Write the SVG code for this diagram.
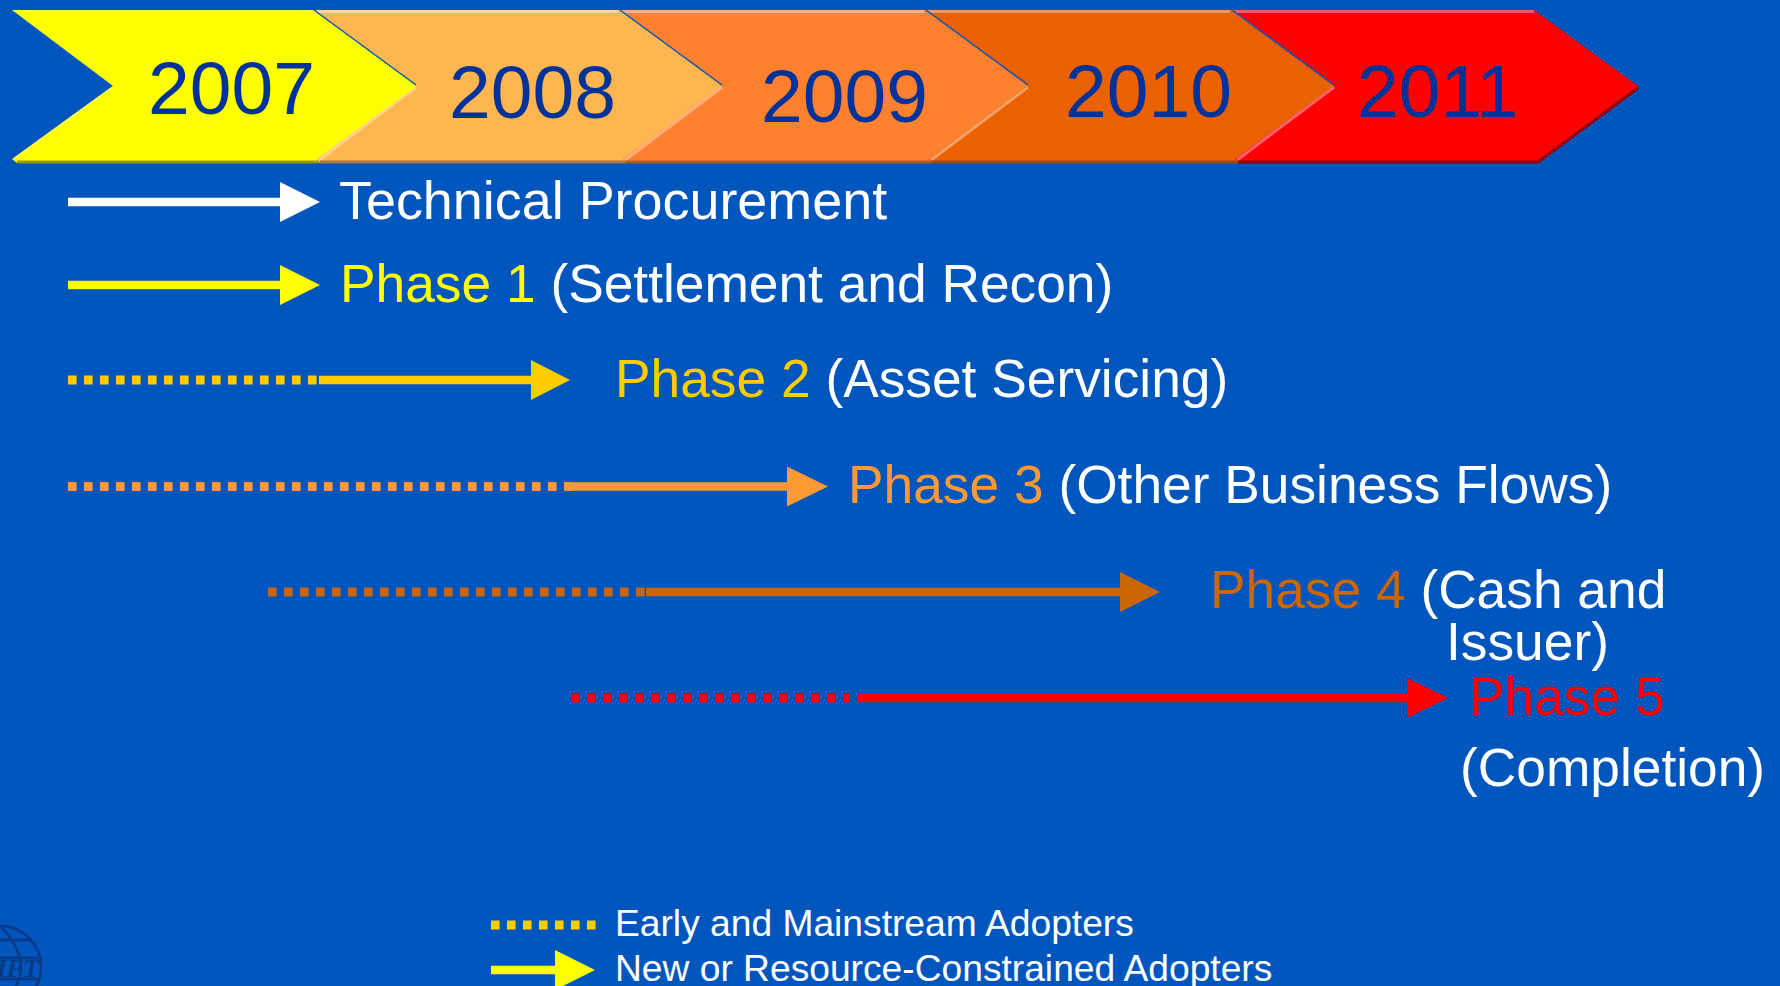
<svg xmlns="http://www.w3.org/2000/svg" width="1780" height="986" viewBox="0 0 1780 986">
<style>
text{font-family:"Liberation Sans",Arial,sans-serif}
.yr{font-size:75px;fill:#003399}
.t{font-size:53.3px;fill:#fff}
.l{font-size:37.2px;fill:#fff}
.hi{stroke-width:3;fill:none}
.ln{stroke-width:8.5;fill:none}
.dot{stroke-width:9;stroke-dasharray:8.6 7.4;fill:none}
.edge{stroke:#0156BE;stroke-width:1.5;fill:none}
</style>
<rect width="1780" height="986" fill="#0156BE"/>
<g id="y2011"><path d="M1232 10H1534L1638 86L1538 163H1238L1232 159L1334 87Z" fill="#f00"/><path d="M1234 11.500H1534" stroke="#ff5a64" stroke-width="3"/><path d="M1334 87L1237 160" class="hi" stroke="#ff6070"/><path d="M1238 162H1538L1638 88" class="hi" stroke="#990000"/><text class="yr" x="1357" y="117">2011</text></g>
<g id="y2010"><path d="M926 10H1232L1334 86L1235 159L1237 163H932L926 159L1028 87Z" fill="#EB6100"/><path d="M928 11.500H1230" stroke="#f29a5a" stroke-width="3"/><path d="M1028 87L931 160" class="hi" stroke="#f4a06a"/><path d="M932 162H1238" class="hi" stroke="#a04a10"/><path d="M1232 10L1334 85" class="edge"/><text class="yr" x="1065" y="117">2010</text></g>
<g id="y2009"><path d="M620 10H926L1028 86L929 159L931 163H626L620 159L722 87Z" fill="#FF8130"/><path d="M622 11.500H924" stroke="#ffb080" stroke-width="3"/><path d="M722 87L625 160" class="hi" stroke="#ffae80"/><path d="M626 162H932" class="hi" stroke="#b05a20"/><path d="M926 10L1028 85" class="edge"/><text class="yr" x="761" y="121.500">2009</text></g>
<g id="y2008"><path d="M314 10H620L722 86L623 159L625 163H320L314 159L416 87Z" fill="#FFB650"/><path d="M316 11.500H618" stroke="#ffd59a" stroke-width="3"/><path d="M416 87L319 160" class="hi" stroke="#ffd08f"/><path d="M320 162H626" class="hi" stroke="#a87838"/><path d="M620 10L722 85" class="edge"/><text class="yr" x="449" y="118">2008</text></g>
<g id="y2007"><path d="M12 10H314L417 86L317 159L319 163H17L12 159L113 86Z" fill="#FF0"/><path d="M14 11H312" stroke="#ffff60" stroke-width="1.500"/><path d="M14 159L113 87" stroke="#ffff50" stroke-width="2"/><path d="M17 162H319" class="hi" stroke="#9a9a00"/><path d="M314 10L416 85" class="edge"/><text class="yr" x="148" y="113.500">2007</text></g>
<g id="connectors">
<path class="ln" stroke="#fff" d="M68 202H281"/><path fill="#fff" d="M280 182L320 202L280 222Z"/>
<path class="ln" stroke="#FF0" d="M68 285H281"/><path fill="#FF0" d="M280 265L320 285L280 305Z"/>
<path class="dot" stroke="#FC0" d="M68 380H319"/><path class="ln" stroke="#FC0" d="M319 380H531"/><path fill="#FC0" d="M531 360L570 380L531 400Z"/>
<path class="dot" stroke="#F93" d="M68 486.500H571"/><path class="ln" stroke="#F93" d="M565 486.500H788"/><path fill="#F93" d="M787 466.500L828 486.500L787 506.500Z"/>
<path class="dot" stroke="#C60" d="M268 592H646"/><path class="ln" stroke="#C60" d="M646 592H1121"/><path fill="#C60" d="M1120 572L1160 592L1120 612Z"/>
<path class="dot" stroke="#f00" d="M571 698H850"/><path class="ln" stroke="#f00" d="M858 698H1408"/><path fill="#f00" d="M1407 678L1448 698L1407 718Z"/>
<path class="dot" stroke="#FC0" d="M491 925H596"/>
<path class="ln" stroke="#FF0" d="M491 970H556"/><path fill="#FF0" d="M555 950L595 970L555 990Z"/>
</g>
<g id="labels">
<text class="t" style="font-size:53.9px" x="339" y="219">Technical Procurement</text>
<text class="t" x="340" y="302"><tspan fill="#FF0">Phase 1</tspan> (Settlement and Recon)</text>
<text class="t" x="615" y="397"><tspan fill="#FC0">Phase 2</tspan> (Asset Servicing)</text>
<text class="t" x="848" y="503"><tspan fill="#F93">Phase 3</tspan> (Other Business Flows)</text>
<text class="t" x="1210" y="608"><tspan fill="#C60">Phase 4</tspan> (Cash and</text>
<text class="t" x="1446" y="660">Issuer)</text>
<text class="t" x="1469" y="715" style="fill:#f00">Phase 5</text>
<text class="t" x="1460" y="786">(Completion)</text>
<text class="l" x="615" y="936">Early and Mainstream Adopters</text>
<text class="l" x="615" y="981">New or Resource-Constrained Adopters</text>
</g>
<g id="logo" fill="none" stroke="#0A3A85" stroke-width="2.500">
<circle cx="0" cy="967" r="41"/><path d="M0 926C10 935 20 950 21 967C21 975 19 980 16 986"/><path d="M0 940H32M0 958H38" /><path d="M0 979H38" stroke-width="3"/>
<text x="-3" y="977" font-size="25" font-style="italic" font-weight="bold" style="font-family:'Liberation Serif',serif" fill="#0A3A85" stroke="none">IFT</text>
</g>
</svg>
